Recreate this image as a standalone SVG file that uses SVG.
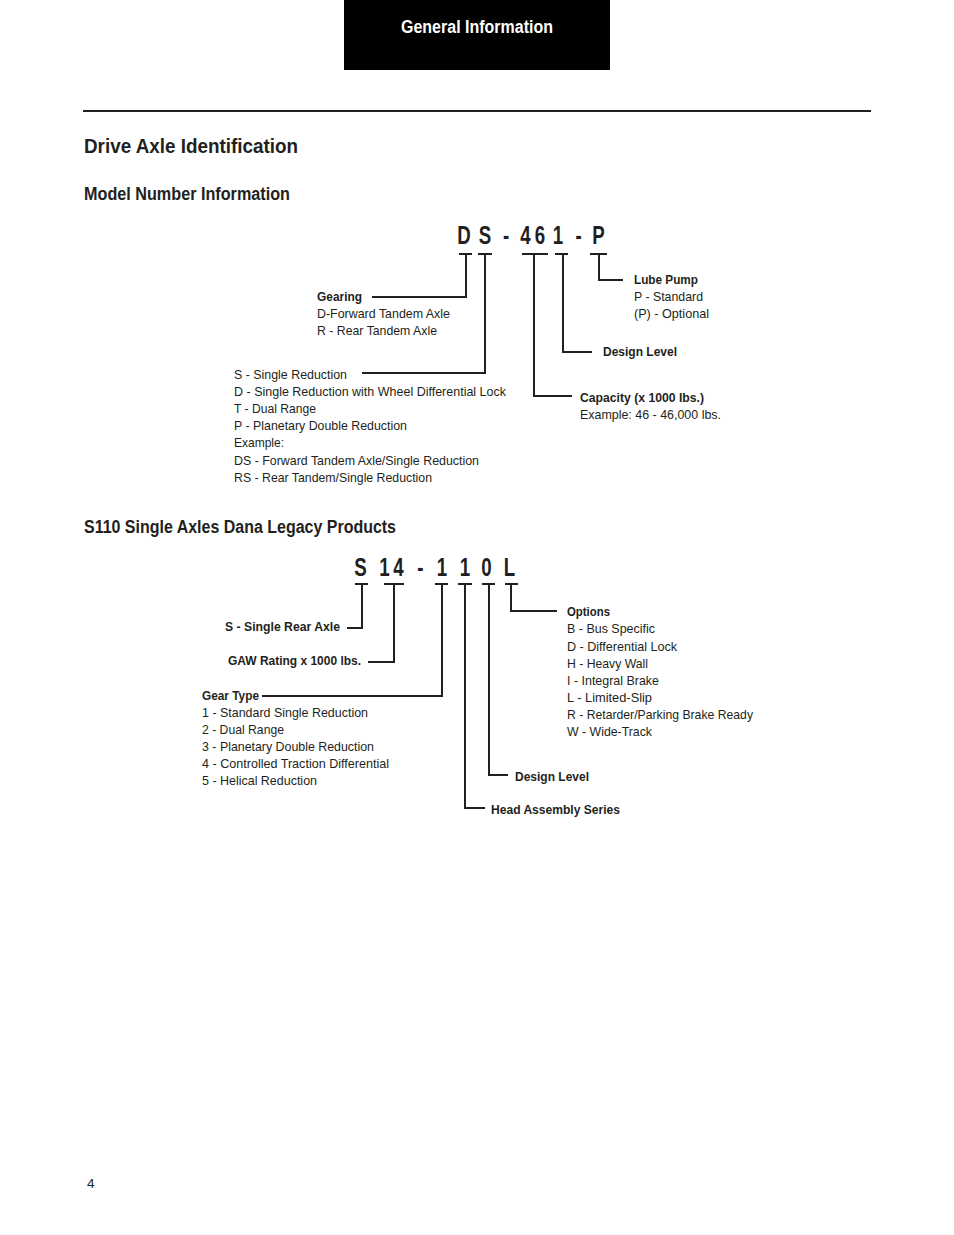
<svg xmlns="http://www.w3.org/2000/svg" width="954" height="1235" viewBox="0 0 954 1235">
<style>
text{font-family:"Liberation Sans","Arial",sans-serif;fill:#231f20}
.b{font-weight:bold}
.t{font-size:13.5px}
.h1{font-size:21px;font-weight:bold}
.h2{font-size:18px;font-weight:bold}
.big{font-size:26px;font-weight:bold;text-anchor:middle}
.c{fill:none;stroke:#231f20;stroke-width:2}
</style>
<rect width="954" height="1235" fill="#fff"/>
<g id="header">
<rect x="344" y="0" width="266" height="70" fill="#000"/>
<text x="401" y="33" style="fill:#fff;font-size:17.5px" class="b" textLength="152" lengthAdjust="spacingAndGlyphs">General Information</text>
</g>
<line x1="83" y1="111" x2="871" y2="111" stroke="#231f20" stroke-width="2"/>
<text class="h1" x="84" y="153" textLength="214" lengthAdjust="spacingAndGlyphs">Drive Axle Identification</text>
<text class="h2" x="84" y="199.5" textLength="206" lengthAdjust="spacingAndGlyphs">Model Number Information</text>
<text class="h2" x="84" y="532.5" textLength="312" lengthAdjust="spacingAndGlyphs">S110 Single Axles Dana Legacy Products</text>

<g id="model1" transform="scale(0.72 1)">
<text class="big" x="644.4 673.6 702.8 729.9 750 775 803.5 831.3" y="244">DS-461-P</text>
</g>
<g id="model2" transform="scale(0.72 1)">
<text class="big" x="500.7 534 553.5 584 613.9 645.8 675.7 707.6" y="576">S14-110L</text>
</g>

<g id="connectors">
<polyline class="c" points="459,254 472,254"/><polyline class="c" points="466,254 466,297 372,297"/>
<polyline class="c" points="478,254 492,254"/><polyline class="c" points="485,254 485,373 362,373"/>
<polyline class="c" points="522,254 548,254"/><polyline class="c" points="534,254 534,396 572,396"/>
<polyline class="c" points="555,254 568,254"/><polyline class="c" points="563,254 563,352 592,352"/>
<polyline class="c" points="590,254 607,254"/><polyline class="c" points="599,254 599,280 623,280"/>

<polyline class="c" points="355,584 368,584"/><polyline class="c" points="362,584 362,628 347,628"/>
<polyline class="c" points="384,584 404,584"/><polyline class="c" points="394,584 394,662 368,662"/>
<polyline class="c" points="435,584 448,584"/><polyline class="c" points="442,584 442,696 262,696"/>
<polyline class="c" points="458,584 472,584"/><polyline class="c" points="465,584 465,808 485,808"/>
<polyline class="c" points="482,584 495,584"/><polyline class="c" points="489,584 489,775 508,775"/>
<polyline class="c" points="505,584 518,584"/><polyline class="c" points="511,584 511,611 557,611"/>
</g>

<g id="gearing" class="t">
<text class="b" x="317" y="301" textLength="45" lengthAdjust="spacingAndGlyphs">Gearing</text>
<text x="317" y="318" textLength="133" lengthAdjust="spacingAndGlyphs">D-Forward Tandem Axle</text>
<text x="317" y="335" textLength="120" lengthAdjust="spacingAndGlyphs">R - Rear Tandem Axle</text>
</g>
<g id="lube" class="t">
<text class="b" x="634" y="284" textLength="64" lengthAdjust="spacingAndGlyphs">Lube Pump</text>
<text x="634" y="301" textLength="69" lengthAdjust="spacingAndGlyphs">P - Standard</text>
<text x="634" y="318" textLength="75" lengthAdjust="spacingAndGlyphs">(P) - Optional</text>
</g>
<g id="design1" class="t">
<text class="b" x="603" y="356" textLength="74" lengthAdjust="spacingAndGlyphs">Design Level</text>
</g>
<g id="capacity" class="t">
<text class="b" x="580" y="402" textLength="124" lengthAdjust="spacingAndGlyphs">Capacity (x 1000 lbs.)</text>
<text x="580" y="419" textLength="141" lengthAdjust="spacingAndGlyphs">Example: 46 - 46,000 lbs.</text>
</g>
<g id="reduction" class="t">
<text x="234" y="378.5" textLength="113" lengthAdjust="spacingAndGlyphs">S - Single Reduction</text>
<text x="234" y="395.5" textLength="272" lengthAdjust="spacingAndGlyphs">D - Single Reduction with Wheel Differential Lock</text>
<text x="234" y="413" textLength="82" lengthAdjust="spacingAndGlyphs">T - Dual Range</text>
<text x="234" y="430" textLength="173" lengthAdjust="spacingAndGlyphs">P - Planetary Double Reduction</text>
<text x="234" y="447" textLength="50" lengthAdjust="spacingAndGlyphs">Example:</text>
<text x="234" y="464.5" textLength="245" lengthAdjust="spacingAndGlyphs">DS - Forward Tandem Axle/Single Reduction</text>
<text x="234" y="481.5" textLength="198" lengthAdjust="spacingAndGlyphs">RS - Rear Tandem/Single Reduction</text>
</g>

<g id="single" class="t">
<text class="b" x="225" y="630.5" textLength="115" lengthAdjust="spacingAndGlyphs">S - Single Rear Axle</text>
</g>
<g id="gaw" class="t">
<text class="b" x="228" y="664.5" textLength="133" lengthAdjust="spacingAndGlyphs">GAW Rating x 1000 lbs.</text>
</g>
<g id="geartype" class="t">
<text class="b" x="202" y="699.5" textLength="57" lengthAdjust="spacingAndGlyphs">Gear Type</text>
<text x="202" y="716.5" textLength="166" lengthAdjust="spacingAndGlyphs">1 - Standard Single Reduction</text>
<text x="202" y="733.5" textLength="82" lengthAdjust="spacingAndGlyphs">2 - Dual Range</text>
<text x="202" y="750.5" textLength="172" lengthAdjust="spacingAndGlyphs">3 - Planetary Double Reduction</text>
<text x="202" y="767.5" textLength="187" lengthAdjust="spacingAndGlyphs">4 - Controlled Traction Differential</text>
<text x="202" y="784.5" textLength="115" lengthAdjust="spacingAndGlyphs">5 - Helical Reduction</text>
</g>
<g id="options" class="t">
<text class="b" x="567" y="615.5" textLength="43" lengthAdjust="spacingAndGlyphs">Options</text>
<text x="567" y="632.5" textLength="88" lengthAdjust="spacingAndGlyphs">B - Bus Specific</text>
<text x="567" y="650.5" textLength="110" lengthAdjust="spacingAndGlyphs">D - Differential Lock</text>
<text x="567" y="667.5" textLength="81" lengthAdjust="spacingAndGlyphs">H - Heavy Wall</text>
<text x="567" y="684.5" textLength="92" lengthAdjust="spacingAndGlyphs">I - Integral Brake</text>
<text x="567" y="701.5" textLength="85" lengthAdjust="spacingAndGlyphs">L - Limited-Slip</text>
<text x="567" y="718.5" textLength="186" lengthAdjust="spacingAndGlyphs">R - Retarder/Parking Brake Ready</text>
<text x="567" y="735.5" textLength="85" lengthAdjust="spacingAndGlyphs">W - Wide-Track</text>
</g>
<g id="design2" class="t">
<text class="b" x="515" y="780.5" textLength="74" lengthAdjust="spacingAndGlyphs">Design Level</text>
</g>
<g id="head" class="t">
<text class="b" x="491" y="813.5" textLength="129" lengthAdjust="spacingAndGlyphs">Head Assembly Series</text>
</g>
<text class="t" x="87" y="1187.5">4</text>
</svg>
